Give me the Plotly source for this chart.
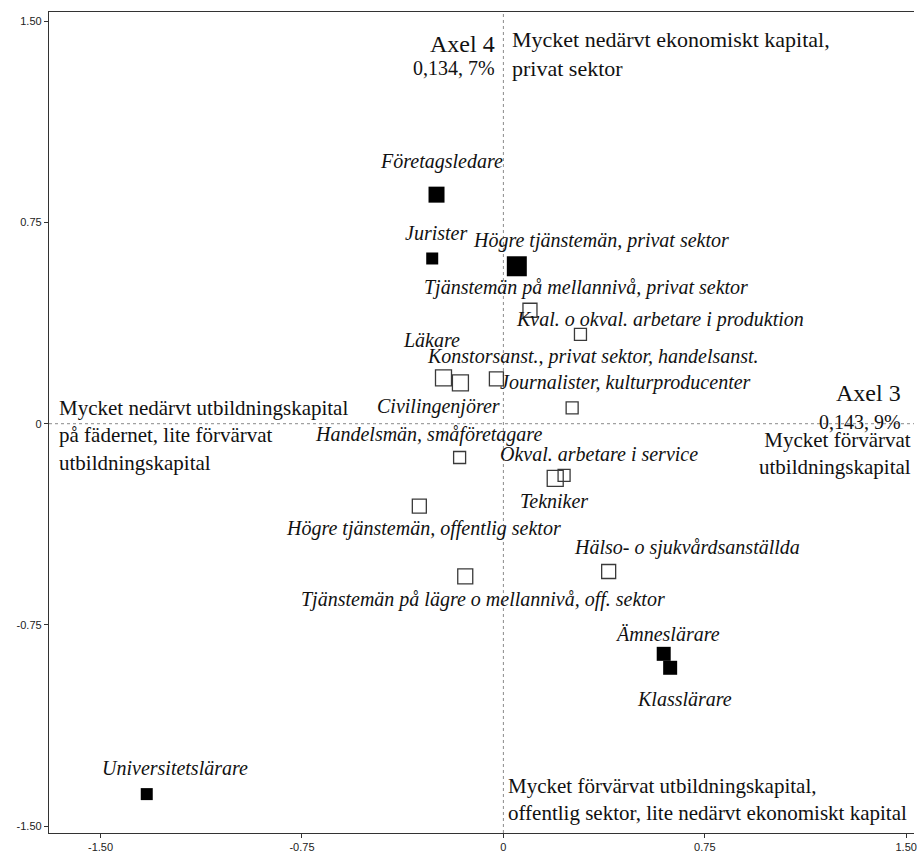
import plotly.graph_objects as go

# Yrkesgrupper och koordinater på axel 3 (x) och axel 4 (y)
yrken = [
    "Företagsledare",
    "Jurister",
    "Högre tjänstemän, privat sektor",
    "Tjänstemän på mellannivå, privat sektor",
    "Kval. o okval. arbetare i produktion",
    "Läkare",
    "Civilingenjörer",
    "Konstorsanst., privat sektor, handelsanst.",
    "Journalister, kulturproducenter",
    "Handelsmän, småföretagare",
    "Okval. arbetare i service",
    "Tekniker",
    "Högre tjänstemän, offentlig sektor",
    "Tjänstemän på lägre o mellannivå, off. sektor",
    "Hälso- o sjukvårdsanställda",
    "Ämneslärare",
    "Klasslärare",
    "Universitetslärare",
]
axel3 = [-0.249, -0.265, 0.050, 0.099, 0.287, -0.223, -0.160, -0.026, 0.256,
         -0.163, 0.226, 0.193, -0.313, -0.142, 0.392, 0.597, 0.621, -1.328]
axel4 = [0.854, 0.616, 0.587, 0.423, 0.333, 0.171, 0.152, 0.167, 0.059,
         -0.126, -0.193, -0.204, -0.307, -0.569, -0.551, -0.858, -0.910, -1.381]
bidrag = [16, 12, 20, 14, 12, 16, 16, 14, 12, 12, 12, 16, 14, 15, 14, 14, 14, 12]
fylld = [True, True, True, False, False, False, False, False, False,
         False, False, False, False, False, False, True, True, True]

tick_varden = [-1.5, -0.75, 0, 0.75, 1.5]
tick_text = ["-1.50", "-0.75", "0", "0.75", "1.50"]

# etikettens förskjutning i pixlar (dx, dy uppåt)
forskjutning = {
    "Företagsledare": (5, 33),
    "Jurister": (4, 25),
    "Högre tjänstemän, privat sektor": (84, 26),
    "Tjänstemän på mellannivå, privat sektor": (56, 23),
    "Kval. o okval. arbetare i produktion": (80, 15),
    "Läkare": (-12, 38),
    "Civilingenjörer": (-22, -24),
    "Konstorsanst., privat sektor, handelsanst.": (97, 22),
    "Journalister, kulturproducenter": (53, 25),
    "Handelsmän, småföretagare": (-31, 23),
    "Okval. arbetare i service": (35, 21),
    "Tekniker": (-1, -23),
    "Högre tjänstemän, offentlig sektor": (4, -22),
    "Tjänstemän på lägre o mellannivå, off. sektor": (18, -23),
    "Hälso- o sjukvårdsanställda": (78, 24),
    "Ämneslärare": (4, 20),
    "Klasslärare": (14, -31),
    "Universitetslärare": (28, 26),
}

SERIF = "Liberation Serif"
TEXT = "#111111"
XRANGE = [-1.692, 1.529]
YRANGE = [-1.526, 1.535]

fig = go.Figure()

for ar_fylld in (False, True):
    idx = [i for i, f in enumerate(fylld) if f == ar_fylld]
    fig.add_trace(
        go.Scatter(
            x=[axel3[i] for i in idx],
            y=[axel4[i] for i in idx],
            mode="markers",
            marker=dict(
                symbol="square" if ar_fylld else "square-open",
                size=[bidrag[i] for i in idx],
                color="#000000" if ar_fylld else "#3a3a3a",
                opacity=1,
                line=dict(width=0 if ar_fylld else 1.3,
                          color="#000000" if ar_fylld else "#3a3a3a"),
            ),
            hovertext=[yrken[i] for i in idx],
            hoverinfo="text",
            showlegend=False,
        )
    )

annotations = []
for namn, x, y in zip(yrken, axel3, axel4):
    dx, dy = forskjutning[namn]
    annotations.append(
        dict(
            x=x, y=y, xref="x", yref="y",
            xshift=dx, yshift=dy,
            text=f"<i>{namn}</i>",
            showarrow=False,
            font=dict(family=SERIF, size=20, color=TEXT),
        )
    )


def text_block(text, x, y, xanchor, align, size=21):
    return dict(
        x=x, y=y, xref="x", yref="y",
        text=text, showarrow=False,
        xanchor=xanchor, yanchor="middle", align=align,
        font=dict(family=SERIF, size=size, color=TEXT),
    )


annotations += [
    dict(text_block("Axel 4", 0, 1.415, "right", "right", size=24), xshift=-6),
    dict(text_block("0,134, 7%", 0, 1.326, "right", "right", size=20), xshift=-6),
    dict(text_block("Mycket nedärvt ekonomiskt kapital,<br>privat sektor",
                    0, 1.378, "left", "left", size=22), xshift=7),
    text_block("Axel 3", 1.488, 0.115, "right", "right", size=24),
    text_block("0,143, 9%", 1.488, 0.007, "right", "right", size=20),
    dict(text_block("Mycket förvärvat<br>utbildningskapital", 1.51, -0.111, "right", "right"),
         xshift=4),
    text_block("Mycket nedärvt utbildningskapital<br>på fädernet, lite förvärvat<br>utbildningskapital",
               -1.662, -0.045, "left", "left"),
    dict(text_block("Mycket förvärvat utbildningskapital,<br>offentlig sektor, lite nedärvt ekonomiskt kapital",
                    0, -1.401, "left", "left"), xshift=3),
]

axel_stil = dict(
    tickvals=tick_varden,
    showgrid=False,
    zeroline=False,
    tickcolor="#333333",
    ticklen=4,
)

fig.update_layout(
    width=917,
    height=853,
    margin=dict(l=49, r=0, t=12, b=18),
    plot_bgcolor="white",
    paper_bgcolor="white",
    annotations=annotations,
    shapes=[
        dict(type="line", xref="x", yref="paper", x0=0, x1=0, y0=0, y1=1,
             line=dict(color="#8a8a8a", width=1, dash="dot"), layer="below"),
        dict(type="line", xref="paper", yref="y", x0=0, x1=1, y0=0, y1=0,
             line=dict(color="#8a8a8a", width=1, dash="dot"), layer="below"),
    ],
    xaxis=dict(
        axel_stil,
        range=XRANGE,
        ticktext=tick_text,
        ticks="outside",
        ticklabeloverflow="allow",
        showline=True, linecolor="#333333", linewidth=1.3, mirror=True,
        tickfont=dict(family="Liberation Sans", size=11, color="#222222"),
    ),
    yaxis=dict(
        axel_stil,
        range=YRANGE,
        ticktext=tick_text,
        ticks="outside",
        ticklabeloverflow="allow",
        showline=True, linecolor="#333333", linewidth=1.3,
        tickfont=dict(family="Liberation Sans", size=11, color="#222222"),
    ),
    xaxis2=dict(
        axel_stil,
        range=XRANGE, overlaying="x", anchor="y", side="bottom",
        ticks="inside", showticklabels=False, showline=False,
    ),
    yaxis2=dict(
        axel_stil,
        range=YRANGE, overlaying="y", anchor="x", side="left",
        ticks="inside", showticklabels=False, showline=False,
    ),
)

# ta bort sidans standardmarginal så att figuren fyller fönstret
fig.write_html(
    "out.html",
    config={"displayModeBar": False},
    post_script="document.body.style.margin = '0';",
)
